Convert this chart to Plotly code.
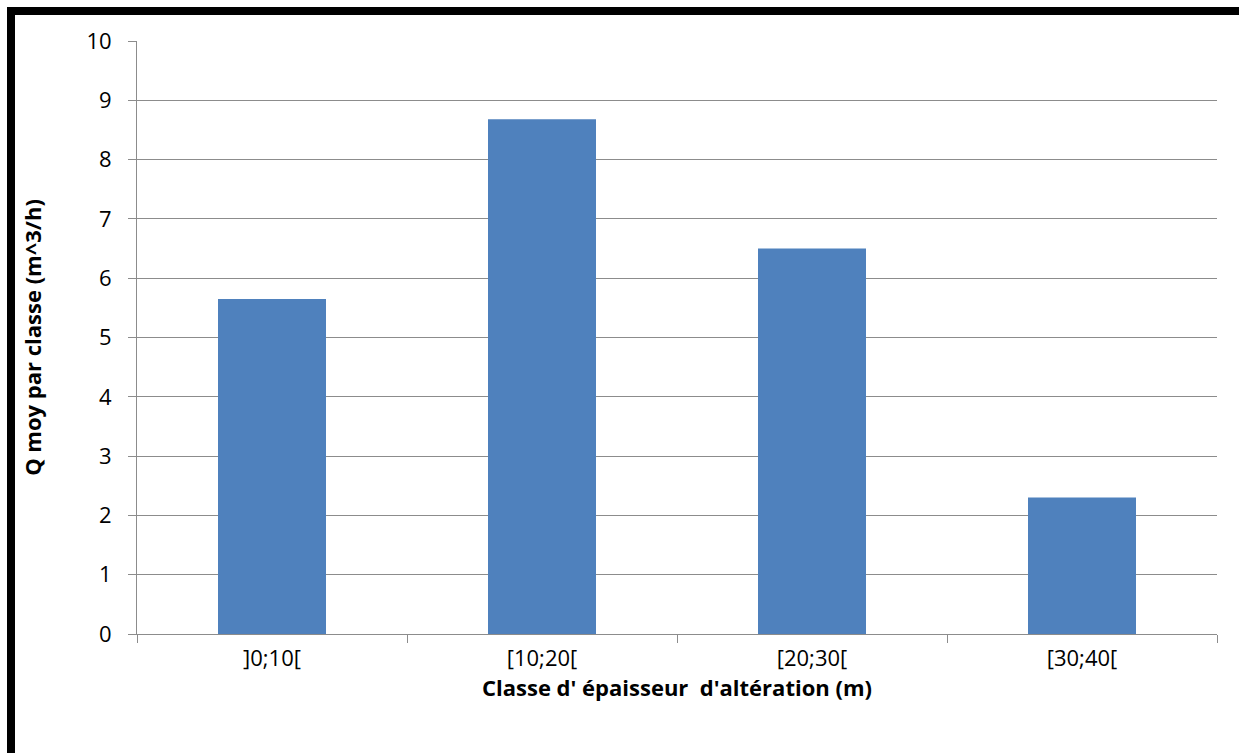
import plotly.graph_objects as go

# Mean discharge per weathering-thickness class
categories = ["]0;10[", "[10;20[", "[20;30[", "[30;40["]
q_moy = [5.65, 8.68, 6.50, 2.30]
y_ticks = list(range(0, 11))

W, H = 1239, 753
ML, MR, MT, MB = 137, 22, 41, 119
pw = W - ML - MR
ph = H - MT - MB

def px_x(x):
    return (x - ML) / pw

def px_y(y):
    return (H - MB - y) / ph

fig = go.Figure(
    go.Bar(
        x=categories,
        y=q_moy,
        marker=dict(color="#4F81BD", line=dict(width=0)),
        hoverinfo="x+y",
    )
)

grid = "#8C8C8C"
font_family = "Open Sans, Liberation Sans, sans-serif"

fig.update_layout(
    width=W,
    height=H,
    margin=dict(l=ML, r=MR, t=MT, b=MB),
    paper_bgcolor="white",
    plot_bgcolor="white",
    bargap=0.6,
    showlegend=False,
    font=dict(family=font_family, color="black", size=20),
    xaxis=dict(
        tickson="boundaries",
        ticks="outside",
        ticklen=8,
        tickcolor=grid,
        showline=True,
        linecolor=grid,
        linewidth=1,
        showgrid=False,
        tickfont=dict(size=22),
        ticklabelstandoff=5,
        title=dict(
            text="<b>Classe d' épaisseur  d'altération (m)</b>",
            font=dict(size=22),
            standoff=3,
        ),
    ),
    yaxis=dict(
        range=[0, 10],
        tickvals=y_ticks,
        ticks="outside",
        ticklen=8,
        tickcolor=grid,
        showline=True,
        linecolor=grid,
        linewidth=1,
        showgrid=True,
        gridcolor=grid,
        gridwidth=1,
        zeroline=False,
        tickfont=dict(size=22),
        ticklabelstandoff=12,
        title=dict(
            text="<b>Q moy par classe (m^3/h)</b>",
            font=dict(size=22),
            standoff=38,
        ),
    ),
    shapes=[
        dict(
            type="rect",
            xref="paper",
            yref="paper",
            x0=px_x(11),
            x1=px_x(W + 10),
            y0=px_y(H + 10),
            y1=px_y(11),
            line=dict(color="black", width=8),
            fillcolor="rgba(0,0,0,0)",
            layer="above",
        )
    ],
)

fig.write_html("out.html")
